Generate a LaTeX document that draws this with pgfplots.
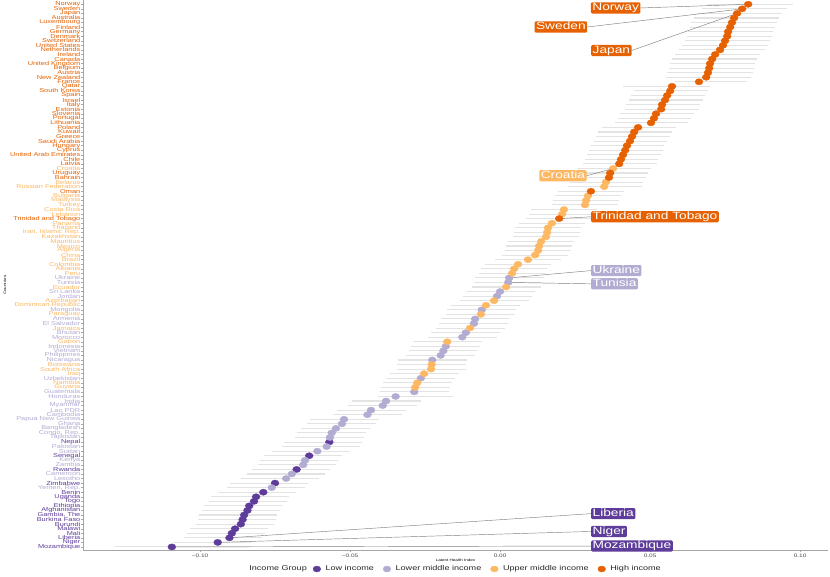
\documentclass[border=0pt]{standalone}
\usepackage{fontspec}
\setmainfont{Liberation Sans}[FakeStretch=1.3]
\usepackage{pgfplots}
\usepackage{pgfplotstable}
\pgfplotsset{compat=1.18}
\usetikzlibrary{arrows.meta}
\definecolor{cW}{HTML}{5E3C99}
\definecolor{cL}{HTML}{B2ABD2}
\definecolor{cU}{HTML}{FDB863}
\definecolor{cH}{HTML}{E66101}
\pgfplotstableread{
y x em ep g
0 0.0827 0.0135 0.015 4
-1 0.0807 0.0135 0.015 4
-2 0.0790 0.0135 0.015 4
-3 0.0780 0.0135 0.015 4
-4 0.0773 0.0135 0.015 4
-5 0.0767 0.0135 0.015 4
-6 0.0760 0.0135 0.015 4
-7 0.0757 0.0135 0.015 4
-8 0.0750 0.0135 0.015 4
-9 0.0743 0.0135 0.015 4
-10 0.0733 0.0135 0.015 4
-11 0.0717 0.0135 0.015 4
-12 0.0707 0.0135 0.015 4
-13 0.0700 0.0135 0.015 4
-14 0.0697 0.0135 0.015 4
-15 0.0693 0.0135 0.015 4
-16 0.0687 0.0135 0.015 4
-17 0.0663 0.008 0.016 4
-18 0.0573 0.0163 0.0127 4
-19 0.0567 0.012 0.0125 4
-20 0.0557 0.012 0.0125 4
-21 0.0550 0.012 0.0125 4
-22 0.0540 0.012 0.0125 4
-23 0.0537 0.012 0.0125 4
-24 0.0520 0.012 0.0125 4
-25 0.0513 0.012 0.0125 4
-26 0.0503 0.012 0.0125 4
-27 0.0460 0.012 0.0125 4
-28 0.0447 0.012 0.0125 4
-29 0.0440 0.012 0.0125 4
-30 0.0433 0.012 0.0125 4
-31 0.0423 0.012 0.0125 4
-32 0.0417 0.012 0.0125 4
-33 0.0410 0.012 0.0125 4
-34 0.0403 0.012 0.0125 4
-35 0.0397 0.012 0.0125 4
-36 0.0377 0.012 0.0125 3
-37 0.0367 0.012 0.0125 4
-38 0.0363 0.012 0.0125 4
-39 0.0353 0.012 0.0125 3
-40 0.0347 0.012 0.0125 3
-41 0.0303 0.011 0.011 4
-42 0.0293 0.011 0.011 3
-43 0.0287 0.011 0.011 3
-44 0.0283 0.011 0.011 3
-45 0.0213 0.011 0.011 3
-46 0.0207 0.011 0.011 3
-47 0.0197 0.011 0.011 4
-48 0.0173 0.011 0.011 3
-49 0.0160 0.011 0.011 3
-50 0.0157 0.011 0.011 3
-51 0.0153 0.011 0.011 3
-52 0.0137 0.011 0.011 3
-53 0.0130 0.011 0.011 3
-54 0.0127 0.011 0.011 3
-55 0.0117 0.011 0.011 3
-56 0.0093 0.011 0.011 3
-57 0.0060 0.011 0.011 3
-58 0.0047 0.011 0.011 3
-59 0.0040 0.011 0.011 3
-60 0.0030 0.0115 0.0115 2
-61 0.0027 0.0115 0.0115 2
-62 0.0020 0.0115 0.0115 3
-63 0.0000 0.0115 0.0115 2
-64 -0.0010 0.0115 0.0115 2
-65 -0.0020 0.0115 0.0115 3
-66 -0.0047 0.0115 0.0115 3
-67 -0.0061 0.0115 0.0115 2
-68 -0.0064 0.0115 0.0115 3
-69 -0.0083 0.0115 0.0115 2
-70 -0.0087 0.0115 0.0115 2
-71 -0.0100 0.0115 0.0115 3
-72 -0.0114 0.0115 0.0115 2
-73 -0.0126 0.0115 0.0115 2
-74 -0.0176 0.0115 0.0115 3
-75 -0.0181 0.0115 0.0115 2
-76 -0.0189 0.0115 0.0115 2
-77 -0.0198 0.0115 0.0115 2
-78 -0.0226 0.0115 0.0115 2
-79 -0.0228 0.0115 0.0115 3
-80 -0.0230 0.0115 0.0115 3
-81 -0.0253 0.0115 0.0115 3
-82 -0.0264 0.0115 0.0115 2
-83 -0.0276 0.0115 0.0115 3
-84 -0.0283 0.0115 0.0115 3
-85 -0.0286 0.0115 0.0115 2
-86 -0.0348 0.006 0.019 2
-87 -0.0380 0.0115 0.0115 2
-88 -0.0391 0.0115 0.0115 2
-89 -0.0430 0.0115 0.0115 2
-90 -0.0442 0.0115 0.0115 2
-91 -0.0520 0.0115 0.0115 2
-92 -0.0527 0.0115 0.0115 2
-93 -0.0547 0.0115 0.0115 2
-94 -0.0561 0.0115 0.0115 2
-95 -0.0567 0.0115 0.0115 2
-96 -0.0569 0.015 0.011 1
-97 -0.0578 0.015 0.011 2
-98 -0.0609 0.015 0.011 2
-99 -0.0636 0.015 0.011 1
-100 -0.0650 0.015 0.011 2
-101 -0.0656 0.015 0.011 2
-102 -0.0678 0.015 0.011 1
-103 -0.0694 0.015 0.011 2
-104 -0.0713 0.015 0.011 2
-105 -0.0750 0.015 0.011 1
-106 -0.0761 0.015 0.011 2
-107 -0.0789 0.015 0.011 1
-108 -0.0813 0.015 0.011 1
-109 -0.0820 0.015 0.011 1
-110 -0.0836 0.015 0.011 1
-111 -0.0842 0.015 0.011 1
-112 -0.0853 0.015 0.011 1
-113 -0.0858 0.015 0.011 1
-114 -0.0864 0.015 0.011 1
-115 -0.0883 0.015 0.011 1
-116 -0.0894 0.015 0.011 1
-117 -0.0902 0.015 0.011 1
-118 -0.0941 0.015 0.011 1
-119 -0.1094 0.019 0.027 1
}\data
\tikzset{ann/.style={text=white, font=\fontsize{10.6}{10.6}\selectfont, inner xsep=1.5pt, inner ysep=0.6pt, text height=7.8pt, text depth=2.2pt, rounded corners=1.2pt},
  seg/.style={black!50, line width=0.45pt, -{Straight Barb[length=2pt,width=3.5pt]}, shorten >=1pt}}
\begin{document}
\begin{tikzpicture}
\begin{axis}[name=ax, scale only axis, width=745bp, height=549.5bp,
  xmin=-0.139, xmax=0.1093, ymin=-119.67, ymax=0.83,
  axis x line*=bottom, axis y line*=left,
  axis line style={gray!70, line width=0.5pt},
  tick align=outside, major tick length=2.5pt,
  tick style={gray!70, line width=0.4pt},
  xtick={-0.1,-0.05,0,0.05,0.1},
  xticklabels={−0.10,−0.05,0.00,0.05,0.10},
  xticklabel style={font=\fontsize{5}{5}\selectfont, text=black!70, inner sep=0pt, anchor=north, yshift=-1pt},
  ytick={-119,-118,...,0},
  yticklabels={\textcolor{cW}{Mozambique},\textcolor{cW}{Niger},\textcolor{cW}{Liberia},\textcolor{cW}{Mali},\textcolor{cW}{Malawi},\textcolor{cW}{Burundi},\textcolor{cW}{Burkina Faso},\textcolor{cW}{Gambia, The},\textcolor{cW}{Afghanistan},\textcolor{cW}{Ethiopia},\textcolor{cW}{Togo},\textcolor{cW}{Uganda},\textcolor{cW}{Benin},\textcolor{cL}{Yemen, Rep.},\textcolor{cW}{Zimbabwe},\textcolor{cL}{Lesotho},\textcolor{cL}{Cameroon},\textcolor{cW}{Rwanda},\textcolor{cL}{Zambia},\textcolor{cL}{Kenya},\textcolor{cW}{Senegal},\textcolor{cL}{Sudan},\textcolor{cL}{Pakistan},\textcolor{cW}{Nepal},\textcolor{cL}{Tajikistan},\textcolor{cL}{Congo, Rep.},\textcolor{cL}{Bangladesh},\textcolor{cL}{Ghana},\textcolor{cL}{Papua New Guinea},\textcolor{cL}{Cambodia},\textcolor{cL}{Lao PDR},\textcolor{cL}{Myanmar},\textcolor{cL}{India},\textcolor{cL}{Honduras},\textcolor{cL}{Guatemala},\textcolor{cU}{Guyana},\textcolor{cU}{Namibia},\textcolor{cL}{Uzbekistan},\textcolor{cU}{Iraq},\textcolor{cU}{South Africa},\textcolor{cU}{Botswana},\textcolor{cL}{Nicaragua},\textcolor{cL}{Philippines},\textcolor{cL}{Vietnam},\textcolor{cL}{Indonesia},\textcolor{cU}{Gabon},\textcolor{cL}{Morocco},\textcolor{cL}{Bhutan},\textcolor{cU}{Jamaica},\textcolor{cL}{El Salvador},\textcolor{cL}{Armenia},\textcolor{cU}{Paraguay},\textcolor{cL}{Mongolia},\textcolor{cU}{Dominican Republic},\textcolor{cU}{Azerbaijan},\textcolor{cL}{Jordan},\textcolor{cL}{Sri Lanka},\textcolor{cU}{Ecuador},\textcolor{cL}{Tunisia},\textcolor{cL}{Ukraine},\textcolor{cU}{Peru},\textcolor{cU}{Albania},\textcolor{cU}{Colombia},\textcolor{cU}{Brazil},\textcolor{cU}{China},\textcolor{cU}{Algeria},\textcolor{cU}{Mexico},\textcolor{cU}{Mauritius},\textcolor{cU}{Kazakhstan},\textcolor{cU}{Iran, Islamic Rep.},\textcolor{cU}{Thailand},\textcolor{cU}{Panama},\textcolor{cH}{Trinidad and Tobago},\textcolor{cU}{Lebanon},\textcolor{cU}{Costa Rica},\textcolor{cU}{Turkey},\textcolor{cU}{Malaysia},\textcolor{cU}{Bulgaria},\textcolor{cH}{Oman},\textcolor{cU}{Russian Federation},\textcolor{cU}{Belarus},\textcolor{cH}{Bahrain},\textcolor{cH}{Uruguay},\textcolor{cU}{Croatia},\textcolor{cH}{Latvia},\textcolor{cH}{Chile},\textcolor{cH}{United Arab Emirates},\textcolor{cH}{Cyprus},\textcolor{cH}{Hungary},\textcolor{cH}{Saudi Arabia},\textcolor{cH}{Greece},\textcolor{cH}{Kuwait},\textcolor{cH}{Poland},\textcolor{cH}{Lithuania},\textcolor{cH}{Portugal},\textcolor{cH}{Slovenia},\textcolor{cH}{Estonia},\textcolor{cH}{Italy},\textcolor{cH}{Israel},\textcolor{cH}{Spain},\textcolor{cH}{South Korea},\textcolor{cH}{Qatar},\textcolor{cH}{France},\textcolor{cH}{New Zealand},\textcolor{cH}{Austria},\textcolor{cH}{Belgium},\textcolor{cH}{United Kingdom},\textcolor{cH}{Canada},\textcolor{cH}{Ireland},\textcolor{cH}{Netherlands},\textcolor{cH}{United States},\textcolor{cH}{Switzerland},\textcolor{cH}{Denmark},\textcolor{cH}{Germany},\textcolor{cH}{Finland},\textcolor{cH}{Luxembourg},\textcolor{cH}{Australia},\textcolor{cH}{Japan},\textcolor{cH}{Sweden},\textcolor{cH}{Norway}},
  yticklabel style={font=\fontsize{5.7}{5.7}\selectfont, inner sep=0pt, anchor=east},
  clip=false,
  legend columns=-1,
  legend style={at={(0.3082,-0.0346)}, anchor=west, draw=none, fill=none, inner sep=0pt,
    font=\fontsize{7}{7}\selectfont, text=black!85,
    /tikz/every odd column/.append style={column sep=4.6pt},
    /tikz/every even column/.append style={column sep=9pt},
    nodes={inner sep=0pt}},
]
\addplot[only marks, mark=none, forget plot,
  error bars/.cd, x dir=both, x explicit, error mark=none,
  error bar style={line width=1.1pt, draw=gray!22}]
  table[x=x, y=y, x error plus=ep, x error minus=em] {\data};
\addplot[only marks, color=cW, mark=*, mark size=3.15pt, mark options={draw=cW, fill=cW, line width=0.3pt, xscale=1.27},
  restrict expr to domain={\thisrow{g}}{1:1},
  legend image code/.code={\fill[cW] (0pt,0pt) ellipse [x radius=3.9pt, y radius=3pt];}]
  table[x=x, y=y] {\data};
\addplot[only marks, color=cL, mark=*, mark size=3.15pt, mark options={draw=cL, fill=cL, line width=0.3pt, xscale=1.27},
  restrict expr to domain={\thisrow{g}}{2:2},
  legend image code/.code={\fill[cL] (0pt,0pt) ellipse [x radius=3.9pt, y radius=3pt];}]
  table[x=x, y=y] {\data};
\addplot[only marks, color=cU, mark=*, mark size=3.15pt, mark options={draw=cU, fill=cU, line width=0.3pt, xscale=1.27},
  restrict expr to domain={\thisrow{g}}{3:3},
  legend image code/.code={\fill[cU] (0pt,0pt) ellipse [x radius=3.9pt, y radius=3pt];}]
  table[x=x, y=y] {\data};
\addplot[only marks, color=cH, mark=*, mark size=3.15pt, mark options={draw=cH, fill=cH, line width=0.3pt, xscale=1.27},
  restrict expr to domain={\thisrow{g}}{4:4},
  legend image code/.code={\fill[cH] (0pt,0pt) ellipse [x radius=3.9pt, y radius=3pt];}]
  table[x=x, y=y] {\data};
\legend{Low income, Lower middle income, Upper middle income, High income}

\node[ann, fill=cH, anchor=west] (nNor) at (axis cs:0.0302,-0.81) {Norway};
\node[ann, fill=cH, anchor=east] (nSwe) at (axis cs:0.0291,-4.98) {Sweden};
\node[ann, fill=cH, anchor=west] (nJap) at (axis cs:0.0303,-10.13) {Japan};
\node[ann, fill=cU, anchor=east] (nCro) at (axis cs:0.0289,-37.6) {Croatia};
\node[ann, fill=cH, anchor=west] (nTri) at (axis cs:0.0303,-46.6) {Trinidad and Tobago};
\node[ann, fill=cL, anchor=west] (nUkr) at (axis cs:0.0303,-58.4) {Ukraine};
\node[ann, fill=cL, anchor=west] (nTun) at (axis cs:0.0303,-61.3) {Tunisia};
\node[ann, fill=cW, anchor=west] (nLib) at (axis cs:0.0303,-111.7) {Liberia};
\node[ann, fill=cW, anchor=west] (nNig) at (axis cs:0.0303,-115.6) {Niger};
\node[ann, fill=cW, anchor=west] (nMoz) at (axis cs:0.0303,-118.8) {Mozambique};
\draw[seg] (nNor.east) -- (axis cs:0.0827,0);
\draw[seg] (nSwe.east) -- (axis cs:0.0807,-1);
\draw[seg] (nJap.east) -- (axis cs:0.0790,-2);
\draw[seg] (nCro.east) -- (axis cs:0.0377,-36);
\draw[seg] (nTri.west) -- (axis cs:0.0197,-47);
\draw[seg] (nUkr.west) -- (axis cs:0.0030,-60);
\draw[seg] (nTun.west) -- (axis cs:0.0027,-61);
\draw[seg] (nLib.west) -- (axis cs:-0.0902,-117);
\draw[seg] (nNig.west) -- (axis cs:-0.0941,-118);
\draw[seg] (nMoz.west) -- (axis cs:-0.1094,-119);

\node[anchor=east, font=\fontsize{7}{7}\selectfont, text=black!85, inner sep=0pt] at (axis description cs:0.3007,-0.0346) {Income Group};
\node[font=\fontsize{3.5}{3.5}\selectfont, inner sep=0pt] at (axis description cs:0.5,-0.0182) {Latent Health Index};
\node[rotate=90, font=\fontsize{3.5}{3.5}\selectfont, inner sep=0pt] at (axis description cs:-0.1047,0.482) {Countries};
\end{axis}
\pgfresetboundingbox
\path[use as bounding box] ([shift={(-83bp,-27bp)}]ax.south west) rectangle ([shift={(2bp,0.5bp)}]ax.north east);
\end{tikzpicture}
\end{document}
